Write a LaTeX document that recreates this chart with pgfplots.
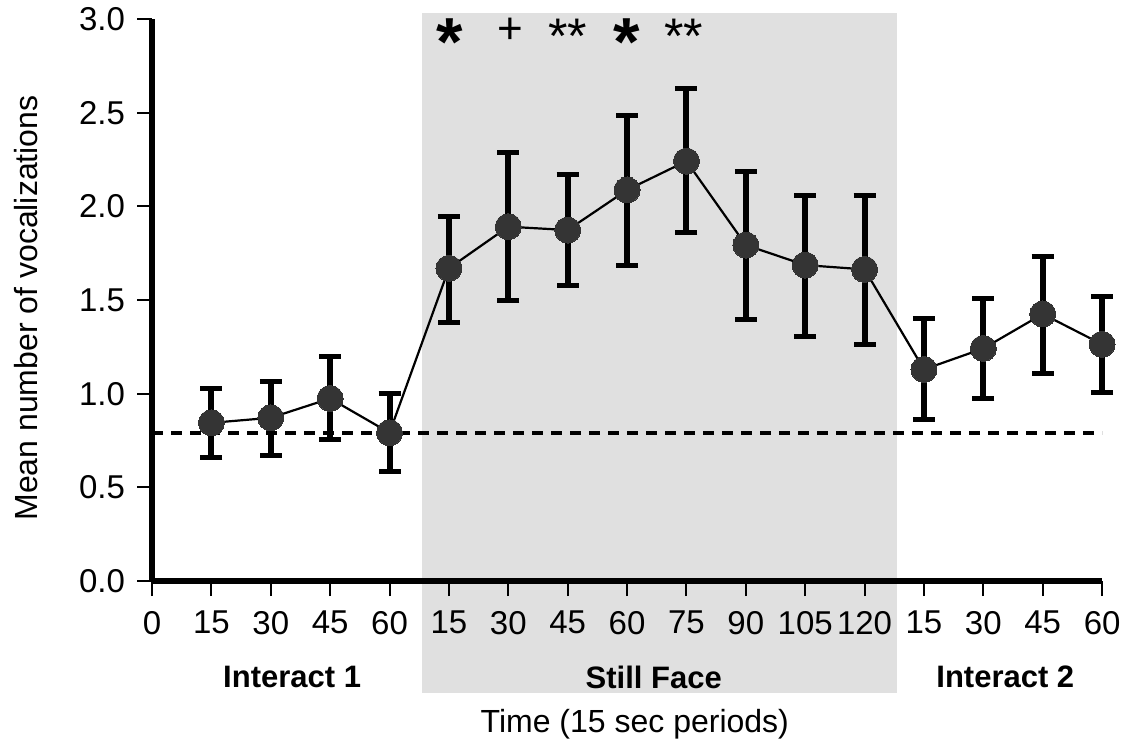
\documentclass[border=0pt]{standalone}
\usepackage{pgfplots}
\pgfplotsset{compat=1.18}
\usepackage{fontspec}
\setmainfont{Liberation Sans}
\definecolor{shade}{RGB}{224,224,224}
\definecolor{dot}{RGB}{52,52,52}

\begin{document}
\begin{tikzpicture}
\begin{axis}[
  scale only axis, width=475pt, height=281pt,
  xmin=0, xmax=16, ymin=0, ymax=3,
  axis x line*=bottom, axis y line*=left,
  axis line style={line width=3pt, -},
  clip=false, axis on top,
  xtick={0,...,16},
  xticklabels={0,15,30,45,60,15,30,45,60,75,90,105,120,15,30,45,60},
  ytick={0,0.5,1,1.5,2,2.5,3},
  yticklabel style={xshift=-2.5pt, /pgf/number format/.cd, fixed, fixed zerofill, precision=1},
  /pgf/number format/assume math mode=true,
  tick style={line width=1pt, black},
  tick align=outside, major tick length=7.5pt,
  ticklabel style={font=\fontsize{16.5}{18}\selectfont},
  xticklabel style={yshift=-4pt},
]
\addplot[fill=shade, draw=none, forget plot] coordinates {(4.547,-0.598) (12.547,-0.598) (12.547,3.031) (4.547,3.031)} -- cycle;

\addplot[black, line width=1.8pt, dash pattern=on 5.5pt off 4pt] coordinates {(0,0.792) (16,0.792)};

\addplot[black, line width=1.1pt, mark=*, mark size=6.5pt,
  mark options={fill=dot, draw=dot, line width=0pt, solid},
  error bars/.cd, y dir=both, y explicit,
  error bar style={line width=3pt, black},
  error mark options={rotate=90, mark size=5.5pt, line width=2.5pt, black}]
  table[x=x, y=y, y error plus=ep, y error minus=em] {
x y ep em
1 0.845 0.185 0.183
2 0.872 0.192 0.199
3 0.975 0.226 0.218
4 0.792 0.210 0.208
5 1.670 0.279 0.291
6 1.892 0.397 0.392
7 1.874 0.294 0.294
8 2.088 0.395 0.401
9 2.242 0.389 0.380
10 1.794 0.395 0.395
11 1.687 0.370 0.379
12 1.664 0.393 0.399
13 1.130 0.273 0.267
14 1.242 0.267 0.267
15 1.426 0.309 0.317
16 1.264 0.254 0.259
};

\node[font=\fontsize{34}{34}\selectfont\bfseries] at (axis cs:5.02,2.875) {*};
\node[font=\fontsize{22}{22}\selectfont] at (axis cs:6.03,2.94) {+};
\node[font=\fontsize{25}{25}\selectfont] at (axis cs:7.0,2.91) {**};
\node[font=\fontsize{34}{34}\selectfont\bfseries] at (axis cs:8.0,2.875) {*};
\node[font=\fontsize{25}{25}\selectfont] at (axis cs:8.95,2.91) {**};

\node[font=\fontsize{15.5}{18}\selectfont\bfseries] at (axis cs:2.36,-0.513) {Interact 1};
\node[font=\fontsize{15.5}{18}\selectfont\bfseries] at (axis cs:8.45,-0.513) {Still Face};
\node[font=\fontsize{15.5}{18}\selectfont\bfseries] at (axis cs:14.37,-0.513) {Interact 2};
\node[font=\fontsize{16}{18}\selectfont] at (axis cs:8.13,-0.765) {Time (15 sec periods)};
\node[font=\fontsize{16}{18}\selectfont, rotate=90] at (axis cs:-2.12,1.458) {Mean number of vocalizations};
\path (axis cs:-2.56,-0.881) (axis cs:16.47,3.102);
\end{axis}
\end{tikzpicture}
\end{document}
